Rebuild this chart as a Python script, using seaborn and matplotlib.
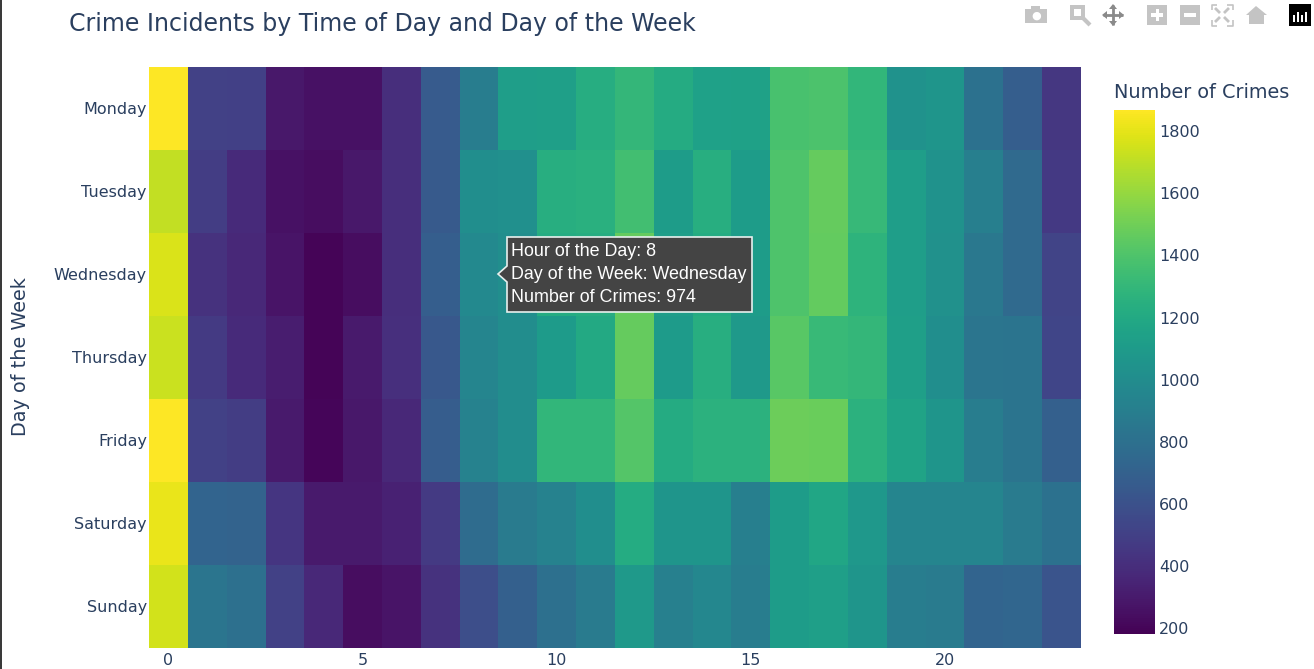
import numpy as np
import pandas as pd
import matplotlib
matplotlib.use("Agg")
import matplotlib.pyplot as plt
from matplotlib.lines import Line2D
from matplotlib.patches import Polygon, Rectangle
from matplotlib.transforms import ScaledTranslation
import seaborn as sns

days = ["Monday", "Tuesday", "Wednesday", "Thursday", "Friday", "Saturday", "Sunday"]
hours = list(range(24))
monday = [1868, 510, 500, 290, 255, 255, 400, 660, 890, 1120, 1130, 1230, 1300, 1210, 1140, 1150, 1380, 1390, 1290, 1040, 1060, 810, 680, 450]
tuesday = [1710, 480, 380, 260, 235, 290, 400, 650, 1010, 1020, 1240, 1250, 1360, 1110, 1240, 1110, 1400, 1470, 1310, 1120, 1040, 900, 760, 460]
wednesday = [1770, 420, 370, 270, 200, 240, 400, 680, 974, 1010, 1220, 1230, 1470, 1120, 1220, 1110, 1400, 1460, 1270, 1120, 1030, 860, 760, 520]
thursday = [1735, 470, 380, 320, 200, 300, 410, 640, 950, 1000, 1100, 1200, 1470, 1100, 1240, 1090, 1430, 1320, 1300, 1130, 1010, 840, 830, 530]
friday = [1868, 510, 480, 300, 205, 290, 370, 670, 920, 1000, 1290, 1290, 1420, 1210, 1260, 1260, 1490, 1480, 1260, 1160, 1060, 890, 830, 690]
saturday = [1810, 720, 710, 440, 300, 300, 340, 470, 770, 880, 920, 1010, 1220, 1060, 1060, 900, 1110, 1180, 1080, 950, 950, 950, 880, 810]
sunday = [1755, 840, 800, 510, 370, 240, 270, 420, 580, 690, 800, 880, 1090, 910, 960, 890, 1110, 1130, 1060, 890, 880, 720, 730, 620]
x_ticks = [0, 5, 10, 15, 20]
cbar_ticks = [200, 400, 600, 800, 1000, 1200, 1400, 1600, 1800]
tooltip_lines = ["Hour of the Day: 8", "Day of the Week: Wednesday", "Number of Crimes: 974"]

W, H = 1314, 669
INK = "#2a3f5f"
plt.rcParams["font.family"] = ["DejaVu Sans"]
sns.set_theme(style="white", rc={"font.family": ["DejaVu Sans"]})


def box(x0, y0, x1, y1):
    return [x0 / W, 1 - y1 / H, (x1 - x0) / W, (y1 - y0) / H]


df = pd.DataFrame([monday, tuesday, wednesday, thursday, friday, saturday, sunday], index=days, columns=hours)

fig = plt.figure(figsize=(W / 100, H / 100), dpi=100, facecolor="white")
ax = fig.add_axes(box(149, 67, 1081, 648))
cax = fig.add_axes(box(1114, 110, 1155, 634))
sns.heatmap(df, ax=ax, cbar_ax=cax, cmap="viridis", vmin=182, vmax=1868, linewidths=0, rasterized=False)

ax.set_xticks([h + 0.5 for h in x_ticks], [str(h) for h in x_ticks], rotation=0, color=INK, fontsize=11.5)
ax.set_yticks(np.arange(len(days)) + 0.5, days, rotation=0, color=INK, fontsize=11.5, va="center")
ax.tick_params(length=0, pad=1.5)
ax.tick_params(axis="x", pad=3.5)
ax.set_xlabel("")
ax.set_ylabel("")
for label in ax.get_yticklabels():
    label.set_transform(label.get_transform() + ScaledTranslation(0, -0.8 / 100, fig.dpi_scale_trans))

cax.set_yticks(cbar_ticks, [str(t) for t in cbar_ticks], color=INK, fontsize=11.5)
cax.tick_params(length=0, pad=3, right=True)
cax.collections[0].set_edgecolor("face")

fig.text(69 / W, 1 - 24.5 / H, "Crime Incidents by Time of Day and Day of the Week", color=INK, fontsize=17, va="center", ha="left")
fig.text(1114 / W, 1 - 92.5 / H, "Number of Crimes", color=INK, fontsize=13.9, va="center", ha="left")
fig.text(21 / W, 1 - 357 / H, "Day of the Week", color=INK, fontsize=13.9, rotation=90, va="center", ha="center")

# screenshot edge
fig.add_artist(Rectangle((0, 0), 2 / W, 1, transform=fig.transFigure, color="#3a3a3a", lw=0))


def px(x, y):
    return (x / W, 1 - y / H)


# hover label
outline = [px(*p) for p in [(507, 237), (752, 237), (752, 312), (507, 312), (507, 282), (498, 274), (507, 266)]]
fig.add_artist(Polygon(outline, closed=True, transform=fig.transFigure, facecolor="#444444", edgecolor="#e8f0ee", lw=1.2, zorder=5))
for line, y in zip(tooltip_lines, [251, 274.5, 298]):
    fig.text(511 / W, 1 - y / H, line, color="white", fontsize=12.85, family=["Liberation Sans"], va="center", ha="left", zorder=6)

# toolbar icons
GREY = "#c4c4c4"
DARK = "#8a8a8a"
fa = fig.add_artist
tf = fig.transFigure


def rect(x0, y0, x1, y1, **kw):
    fa(Rectangle(px(x0, y1), (x1 - x0) / W, (y1 - y0) / H, transform=tf, lw=0, **kw))


def seg(points, color=GREY, lw=1.2):
    fa(Line2D([p[0] / W for p in points], [1 - p[1] / H for p in points], transform=tf, color=color, lw=lw, solid_capstyle="butt"))


# camera
rect(1025, 9, 1047, 23, color=GREY)
rect(1031, 6, 1040, 9, color=GREY)
fig.text(1036 / W, 1 - 16 / H, "●", color="white", fontsize=8, ha="center", va="center")
# zoom
rect(1070, 5, 1085, 20, color=GREY)
rect(1074, 9, 1081, 16, color="white")
seg([(1083, 18), (1090, 25)], lw=3)
# pan
seg([(1113, 5), (1113, 25)], DARK, 2)
seg([(1103, 15), (1123, 15)], DARK, 2)
for a, b, c in [((1109, 9), (1113, 4), (1117, 9)), ((1109, 21), (1113, 26), (1117, 21)),
                ((1107, 11), (1102, 15), (1107, 19)), ((1119, 11), (1124, 15), (1119, 19))]:
    fa(Polygon([px(*a), px(*b), px(*c)], transform=tf, color=DARK, lw=0))
# plus / minus
rect(1147, 5, 1167, 25, color=GREY)
rect(1155.5, 9, 1158.5, 21, color="white")
rect(1151, 13.5, 1163, 16.5, color="white")
rect(1180, 5, 1200, 25, color=GREY)
rect(1184, 13.5, 1196, 16.5, color="white")
# autoscale
for sx, sy in [(1, 1), (-1, 1), (1, -1), (-1, -1)]:
    cx, cy = 1222, 15
    seg([(cx + sx * 10.5, cy + sy * 5), (cx + sx * 10.5, cy + sy * 10.5), (cx + sx * 5, cy + sy * 10.5)])
    seg([(cx + sx * 7, cy + sy * 7), (cx + sx * 2, cy + sy * 2)], lw=2)
# home
fa(Polygon([px(1246, 15), px(1256, 6), px(1267, 15)], transform=tf, color=GREY, lw=0))
rect(1249, 15, 1264, 24, color=GREY)
# logo
rect(1289, 4, 1311, 26, color="black")
for xb, top in [(1294, 15), (1298, 12), (1302, 15), (1306, 12)]:
    rect(xb - 1, top, xb + 1, 22, color="white")

fig.savefig("out.png", dpi=100)
